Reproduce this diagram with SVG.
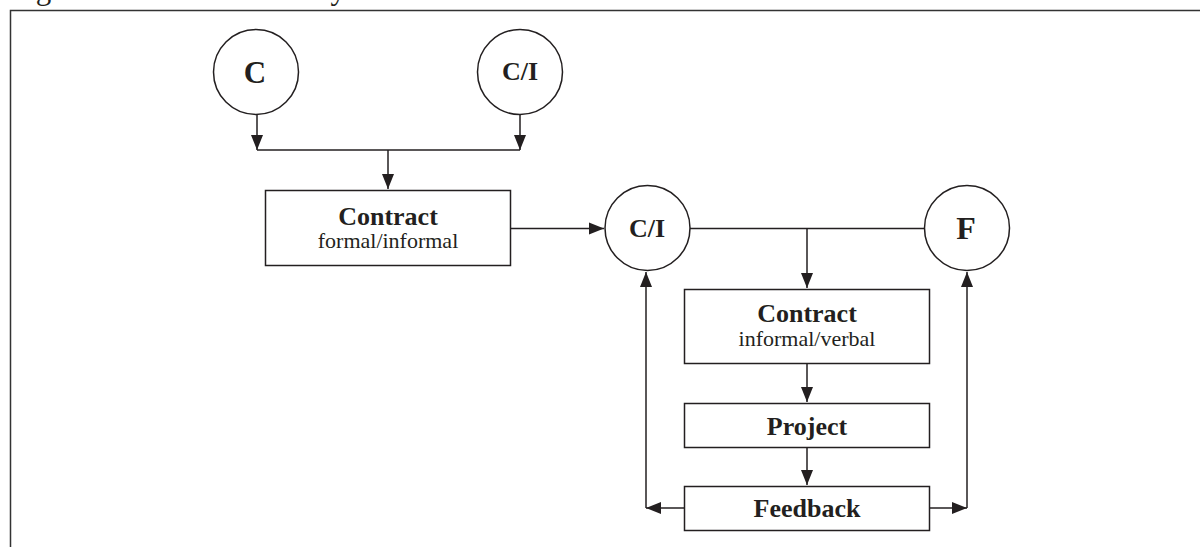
<svg xmlns="http://www.w3.org/2000/svg" width="1200" height="547" viewBox="0 0 1200 547">
<defs>
<style>
.ln{fill:none;stroke:#231f20;stroke-width:1.5}
.nd{fill:#fff;stroke:#231f20;stroke-width:1.5}
.b{font-family:"Liberation Serif","Times New Roman",serif;font-weight:bold;fill:#231f20;text-anchor:middle}
.r{font-family:"Liberation Serif","Times New Roman",serif;fill:#231f20;text-anchor:middle}
</style>
<marker id="ah" markerUnits="userSpaceOnUse" markerWidth="16" markerHeight="14" viewBox="0 0 16 14" refX="15" refY="7" orient="auto">
<path d="M0,1 L15,7 L0,13 Z" fill="#231f20"/>
</marker>
</defs>
<rect width="1200" height="547" fill="#fff"/>
<text x="10" y="-1" font-family="Liberation Serif,serif" font-size="31" fill="#231f20">Figure 3: The Intermediary Model</text>
<path d="M10.5,547 V10.5 H1200" fill="none" stroke="#333" stroke-width="1.5"/>
<g id="connectors">
<line class="ln" x1="257" y1="115" x2="257" y2="150" marker-end="url(#ah)"/>
<line class="ln" x1="520" y1="115" x2="520" y2="150" marker-end="url(#ah)"/>
<line class="ln" x1="257" y1="150" x2="520" y2="150"/>
<line class="ln" x1="388" y1="150" x2="388" y2="189" marker-end="url(#ah)"/>
<line class="ln" x1="511" y1="228.5" x2="604" y2="228.5" marker-end="url(#ah)"/>
<line class="ln" x1="690" y1="228.5" x2="924" y2="228.5"/>
<line class="ln" x1="807" y1="228.5" x2="807" y2="288" marker-end="url(#ah)"/>
<line class="ln" x1="807" y1="364" x2="807" y2="402" marker-end="url(#ah)"/>
<line class="ln" x1="807" y1="448" x2="807" y2="485" marker-end="url(#ah)"/>
<line class="ln" x1="684" y1="508" x2="646" y2="508" marker-end="url(#ah)"/>
<line class="ln" x1="646" y1="508" x2="646" y2="272" marker-end="url(#ah)"/>
<line class="ln" x1="929" y1="508" x2="967" y2="508" marker-end="url(#ah)"/>
<line class="ln" x1="967" y1="508" x2="967" y2="272" marker-end="url(#ah)"/>
</g>
<g id="node-c">
<circle class="nd" cx="256" cy="72" r="42.5"/>
<text class="b" x="255" y="83" font-size="31">C</text>
</g>
<g id="node-ci-top">
<circle class="nd" cx="520" cy="72" r="42.5"/>
<text class="b" x="520" y="80" font-size="26">C/I</text>
</g>
<g id="node-contract1">
<rect class="nd" x="265.5" y="190.5" width="245" height="75"/>
<text class="b" x="388" y="225" font-size="26">Contract</text>
<text class="r" x="388" y="248" font-size="22">formal/informal</text>
</g>
<g id="node-ci-mid">
<circle class="nd" cx="647.5" cy="228" r="42.5"/>
<text class="b" x="647" y="237" font-size="26">C/I</text>
</g>
<g id="node-f">
<circle class="nd" cx="967" cy="228" r="42.5"/>
<text class="b" x="966" y="239" font-size="32">F</text>
</g>
<g id="node-contract2">
<rect class="nd" x="684.5" y="289.5" width="245" height="74"/>
<text class="b" x="807" y="322" font-size="26">Contract</text>
<text class="r" x="807" y="346" font-size="22">informal/verbal</text>
</g>
<g id="node-project">
<rect class="nd" x="684.5" y="403.5" width="245" height="44"/>
<text class="b" x="807" y="435" font-size="26">Project</text>
</g>
<g id="node-feedback">
<rect class="nd" x="684.5" y="486.5" width="245" height="44"/>
<text class="b" x="807" y="517" font-size="26">Feedback</text>
</g>
</svg>
